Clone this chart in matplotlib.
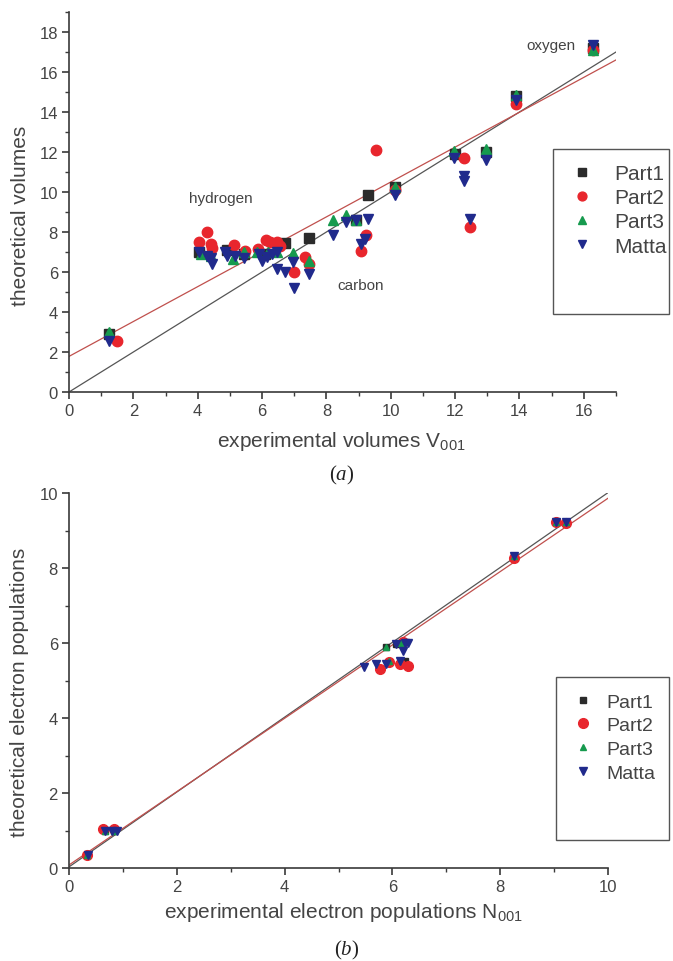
import matplotlib
matplotlib.use('Agg')
import matplotlib.pyplot as plt
from matplotlib.patches import Rectangle
from matplotlib.ticker import MultipleLocator

plt.rcParams['font.family'] = ['Liberation Sans', 'DejaVu Sans']
plt.rcParams['mathtext.fontset'] = 'custom'
plt.rcParams['mathtext.rm'] = 'Liberation Sans'
plt.rcParams['mathtext.it'] = 'Liberation Serif:italic'

# (a) volumes
part1_vx = [1.25, 4.05, 4.9, 5.45, 6.1, 6.7, 7.46, 8.91, 9.3, 10.12, 12.0, 12.95, 13.9, 16.3]
part1_vy = [2.9, 7.0, 7.1, 6.9, 6.9, 7.45, 7.7, 8.6, 9.85, 10.27, 11.9, 12.0, 14.8, 17.2]
part2_vx = [1.5, 4.05, 4.28, 4.41, 4.45, 5.13, 5.47, 5.87, 6.12, 6.25, 6.47, 6.55, 6.99, 7.33,
            7.46, 9.09, 9.24, 9.55, 10.12, 12.27, 12.45, 13.9, 16.3]
part2_vy = [2.53, 7.48, 8.02, 7.4, 7.2, 7.35, 7.07, 7.15, 7.6, 7.5, 7.48, 7.3, 6.0, 6.73,
            6.4, 7.07, 7.83, 12.12, 10.1, 11.68, 8.23, 14.4, 17.1]
part3_vx = [1.25, 4.1, 4.4, 5.1, 5.43, 5.85, 6.2, 6.45, 6.97, 7.46, 8.21, 8.6, 8.91, 10.12,
            11.96, 12.95, 13.9, 16.3]
part3_vy = [3.0, 6.9, 6.8, 6.65, 7.0, 7.0, 7.0, 7.0, 6.95, 6.57, 8.6, 8.85, 8.6, 10.27,
            12.07, 12.15, 14.85, 17.1]
matta_vx = [1.25, 4.05, 4.3, 4.4, 4.45, 4.85, 4.9, 5.15, 5.45, 5.9, 6.0, 6.15, 6.3, 6.47, 6.47,
            6.71, 6.97, 6.99, 7.46, 8.21, 8.6, 8.91, 9.09, 9.19, 9.3, 10.12, 11.96, 12.27,
            12.27, 12.45, 12.95, 13.9, 16.3]
matta_vy = [2.57, 7.0, 6.8, 6.7, 6.4, 7.0, 6.8, 6.8, 6.7, 6.9, 6.55, 6.75, 6.9, 7.0, 6.15,
            5.98, 6.48, 5.18, 5.9, 7.83, 8.52, 8.6, 7.4, 7.65, 8.63, 9.83, 11.68, 10.8,
            10.57, 8.65, 11.6, 14.6, 17.35]
# fitted lines: (intercept, slope)
fit_black_v = (0.0, 1.0)
fit_red_v = (1.78, 0.872)

# (b) electron populations
part1_nx = [0.34, 0.66, 0.83, 5.89, 6.06, 6.16, 6.23, 8.26, 9.03, 9.23]
part1_ny = [0.36, 1.0, 1.0, 5.89, 5.98, 6.0, 5.52, 8.31, 9.24, 9.24]
part2_nx = [0.34, 0.64, 0.83, 5.77, 5.93, 6.15, 6.2, 6.29, 8.26, 9.03, 9.23]
part2_ny = [0.36, 1.05, 1.05, 5.32, 5.5, 5.45, 6.02, 5.4, 8.28, 9.24, 9.2]
part3_nx = [0.34, 0.66, 0.83, 5.89, 5.93, 6.16, 8.26, 9.03, 9.23]
part3_ny = [0.36, 1.0, 1.0, 5.89, 5.52, 6.0, 8.31, 9.24, 9.24]
matta_nx = [0.36, 0.66, 0.79, 0.89, 5.48, 5.70, 5.89, 6.06, 6.15, 6.19, 6.23, 6.29, 8.26, 9.03, 9.23]
matta_ny = [0.36, 0.98, 0.98, 1.0, 5.36, 5.45, 5.45, 5.98, 5.52, 5.8, 6.0, 6.0, 8.31, 9.24, 9.24]
fit_black_n = (0.03, 0.998)
fit_red_n = (0.08, 0.978)

labels = ['Part1', 'Part2', 'Part3', 'Matta']
c_black = '#2b2b2b'
c_red = '#e8262d'
c_green = '#169a4e'
c_blue = '#202a8c'
axis_col = '#3a3a3a'
text_col = '#444444'

W, H = 673, 962
fig = plt.figure(figsize=(W / 100, H / 100), dpi=100)


def box(x0, y0, x1, y1):
    # pixel box (top-left origin) -> figure fraction
    return [x0 / W, 1 - y1 / H, (x1 - x0) / W, (y1 - y0) / H]


def style_axes(ax, xmax, ymax):
    ax.set_xlim(0, xmax)
    ax.set_ylim(0, ymax)
    for s in ['top', 'right']:
        ax.spines[s].set_visible(False)
    for s in ['left', 'bottom']:
        ax.spines[s].set_color(axis_col)
        ax.spines[s].set_linewidth(1.2)
    ax.xaxis.set_major_locator(MultipleLocator(2))
    ax.xaxis.set_minor_locator(MultipleLocator(1))
    ax.yaxis.set_major_locator(MultipleLocator(2))
    ax.yaxis.set_minor_locator(MultipleLocator(1))
    ax.tick_params(which='major', direction='out', length=5, width=1.2, color=axis_col,
                   labelsize=12, labelcolor=text_col, pad=3)
    ax.tick_params(which='minor', direction='out', length=3, width=1.0, color=axis_col)


def fit_line(ax, fit, xmax, color):
    b, m = fit
    ax.plot([0, xmax], [b, b + m * xmax], color=color, lw=0.9, zorder=1)


# ---- panel (a)
ax1 = fig.add_axes(box(69, 13, 616, 393))
style_axes(ax1, 17, 19)
fit_line(ax1, fit_black_v, 17, '#555555')
fit_line(ax1, fit_red_v, 17, '#c0504d')
h1 = [
    ax1.plot(part1_vx, part1_vy, ls='none', marker='s', ms=6.5, color=c_black)[0],
    ax1.plot(part2_vx, part2_vy, ls='none', marker='o', ms=7.5, color=c_red)[0],
    ax1.plot(part3_vx, part3_vy, ls='none', marker='^', ms=7.5, color=c_green)[0],
    ax1.plot(matta_vx, matta_vy, ls='none', marker='v', ms=7.5, color=c_blue)[0],
]
ax1.text(4.72, 9.7, 'hydrogen', fontsize=11, color=text_col, ha='center', va='center')
ax1.text(9.07, 5.35, 'carbon', fontsize=11, color=text_col, ha='center', va='center')
ax1.text(14.97, 17.35, 'oxygen', fontsize=11, color=text_col, ha='center', va='center')

fig.text(21 / W, 1 - 216 / H, 'theoretical volumes', rotation=90, fontsize=15,
         color=text_col, ha='center', va='center')
fig.text(341 / W, 1 - 442 / H, 'experimental volumes V$_{\\mathrm{001}}$', fontsize=15,
         color=text_col, ha='center', va='center')
fig.text(342 / W, 1 - 475 / H, '($\\mathit{a}$)', fontsize=15, family='Liberation Serif',
         color='#222222', ha='center', va='center')

fig.legend(h1, labels, loc='upper left', bbox_to_anchor=(572 / W, 1 - 165 / H),
           bbox_transform=fig.transFigure, frameon=False, fontsize=15, markerscale=0.85,
           labelspacing=0.25, handlelength=1.0, handletextpad=1.05, borderpad=0,
           borderaxespad=0, labelcolor=text_col)
fig.patches.append(Rectangle((553 / W, 1 - 315 / H), (669 - 553) / W, (315 - 150) / H,
                             transform=fig.transFigure, fill=False, ec='#555555', lw=1.0))

# ---- panel (b)
ax2 = fig.add_axes(box(69, 494, 608, 869))
style_axes(ax2, 10, 10)
fit_line(ax2, fit_black_n, 10, '#555555')
fit_line(ax2, fit_red_n, 10, '#c0504d')
h2 = [
    ax2.plot(part1_nx, part1_ny, ls='none', marker='s', ms=4, color=c_black)[0],
    ax2.plot(part2_nx, part2_ny, ls='none', marker='o', ms=7, color=c_red)[0],
    ax2.plot(part3_nx, part3_ny, ls='none', marker='^', ms=5, color=c_green)[0],
    ax2.plot(matta_nx, matta_ny, ls='none', marker='v', ms=5.5, color=c_blue)[0],
]

fig.text(20 / W, 1 - 692 / H, 'theoretical electron populations', rotation=90, fontsize=15,
         color=text_col, ha='center', va='center')
fig.text(343 / W, 1 - 912 / H, 'experimental electron populations N$_{\\mathrm{001}}$',
         fontsize=15, color=text_col, ha='center', va='center')
fig.text(347 / W, 1 - 950 / H, '($\\mathit{b}$)', fontsize=15, family='Liberation Serif',
         color='#222222', ha='center', va='center')

fig.legend(h2, labels, loc='upper left', bbox_to_anchor=(573 / W, 1 - 694 / H),
           bbox_transform=fig.transFigure, frameon=False, fontsize=14,
           labelspacing=0.31, handlelength=1.0, handletextpad=0.7, borderpad=0,
           borderaxespad=0, labelcolor=text_col)
fig.patches.append(Rectangle((556 / W, 1 - 841 / H), (669 - 556) / W, (841 - 678) / H,
                             transform=fig.transFigure, fill=False, ec='#555555', lw=1.0))

fig.savefig('out.png', dpi=100)
